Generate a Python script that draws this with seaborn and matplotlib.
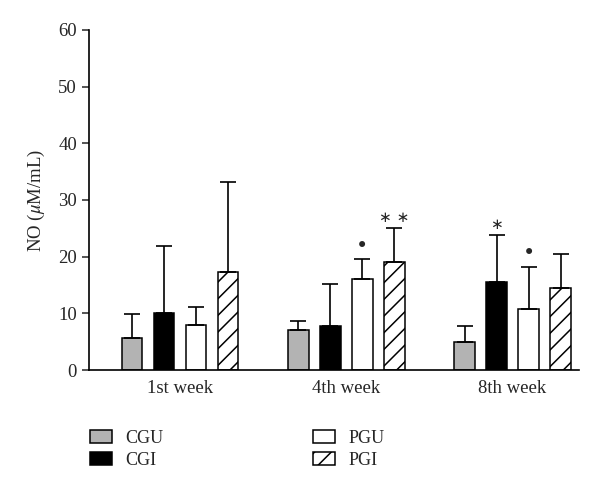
import matplotlib
matplotlib.use("Agg")
import matplotlib.pyplot as plt
from matplotlib.patches import Patch
import pandas as pd
import seaborn as sns

# NO levels per group and week
weeks = ["1st week", "4th week", "8th week"]
groups = ["CGU", "CGI", "PGU", "PGI"]
means = {
    "CGU": [5.6, 7.1, 4.9],
    "CGI": [10.0, 7.7, 15.5],
    "PGU": [8.0, 16.1, 10.8],
    "PGI": [17.3, 19.1, 14.4],
}
err_top = {
    "CGU": [9.8, 8.7, 7.8],
    "CGI": [21.9, 15.2, 23.8],
    "PGU": [11.2, 19.6, 18.2],
    "PGI": [33.2, 25.0, 20.5],
}
# significance marks: (group, week index, symbol)
marks = [("PGU", 1, "•"), ("PGI", 1, "∗ ∗"), ("CGI", 2, "∗"), ("PGU", 2, "•")]

colors = {"CGU": "#b3b3b3", "CGI": "black", "PGU": "white", "PGI": "white"}

rows = []
for g in groups:
    for i, w in enumerate(weeks):
        rows.append({"week": w, "group": g, "NO": means[g][i]})
df = pd.DataFrame(rows)

sns.set_style("ticks")
plt.rcParams["font.family"] = ["Liberation Serif", "DejaVu Serif"]
plt.rcParams["mathtext.fontset"] = "stix"
plt.rcParams["hatch.linewidth"] = 1.1

fig = plt.figure(figsize=(6, 4.98), dpi=100)
ax = fig.add_axes([0.148, 0.257, 0.817, 0.683])

sns.barplot(data=df, x="week", y="NO", hue="group", hue_order=groups,
            palette=colors, width=0.77, gap=0.36, errorbar=None,
            edgecolor="black", linewidth=1.1, legend=False, ax=ax)

for g, cont in zip(groups, ax.containers):
    xs = [b.get_x() + b.get_width() / 2 for b in cont]
    ys = means[g]
    up = [t - m for t, m in zip(err_top[g], ys)]
    if g == "PGI":
        for b in cont:
            b.set_hatch("//")
    ax.errorbar(xs, ys, yerr=[[0] * 3, up], fmt="none", ecolor="black",
                elinewidth=1.2, capsize=5.5, capthick=1.2, zorder=1)

for g, i, s in marks:
    b = ax.containers[groups.index(g)][i]
    x = b.get_x() + b.get_width() / 2
    size = 15 if s == "•" else 11
    ax.text(x, err_top[g][i] + 0.6, s, ha="center", va="bottom",
            fontsize=size, family=["DejaVu Sans"])

ax.set_ylim(0, 60)
ax.set_yticks(range(0, 61, 10))
ax.set_xlim(-0.55, 2.4)
ax.set_xlabel("")
ax.set_ylabel(r"NO ($\mu$M/mL)", fontsize=13.5, labelpad=8)
ax.tick_params(axis="y", labelsize=13.5, direction="out", length=5, width=1.1)
ax.tick_params(axis="x", labelsize=13.5, length=0, pad=7)
sns.despine(ax=ax)
for sp in ["left", "bottom"]:
    ax.spines[sp].set_linewidth(1.2)
    ax.spines[sp].set_color("black")

handles = [Patch(facecolor=colors[g], edgecolor="black", linewidth=1.1,
                 hatch="//" if g == "PGI" else None, label=g) for g in groups]
fig.legend(handles=handles, ncol=2, frameon=False, loc="upper left",
           bbox_to_anchor=(0.15, 0.137), fontsize=13, handlelength=1.2,
           handleheight=0.72, handletextpad=0.75, columnspacing=8.3,
           labelspacing=0.3, borderaxespad=0, borderpad=0)

fig.savefig("out.png", dpi=100)
